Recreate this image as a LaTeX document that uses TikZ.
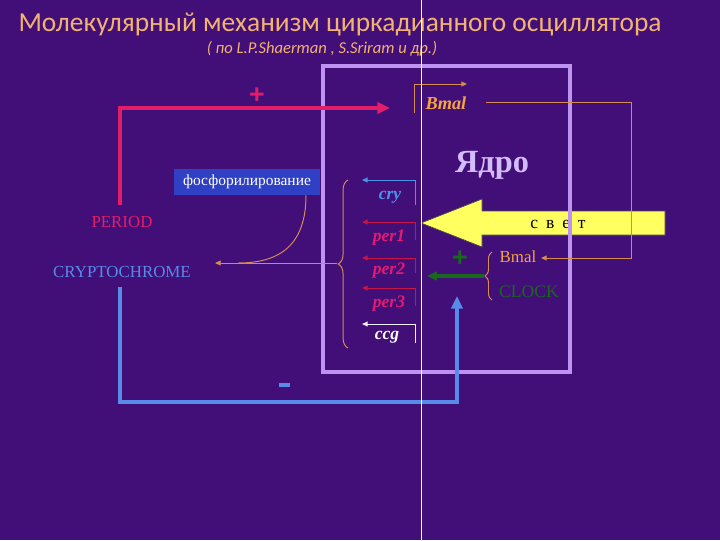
\documentclass[tikz,border=0pt]{standalone}
\usepackage{fontspec}
\setmainfont{Liberation Serif}
\newfontfamily\carlito{Carlito}
\newfontfamily\plusfont{Liberation Sans}
\usetikzlibrary{arrows.meta,decorations.pathreplacing}
\definecolor{fon}{RGB}{66,15,120}
\definecolor{titul}{RGB}{242,178,112}
\definecolor{rozov}{RGB}{226,30,106}
\definecolor{sinij}{RGB}{88,138,234}
\definecolor{zelen}{RGB}{26,104,30}
\definecolor{lilov}{RGB}{190,146,240}
\definecolor{yadroc}{RGB}{212,188,250}
\definecolor{oranzh}{RGB}{212,140,82}
\definecolor{bmalc}{RGB}{244,164,64}
\definecolor{gencry}{RGB}{76,146,236}
\definecolor{genper}{RGB}{228,26,112}
\definecolor{strelka}{RGB}{200,20,70}
\definecolor{zhelt}{RGB}{255,255,96}
\definecolor{boxblue}{RGB}{48,64,196}
\begin{document}
\begin{tikzpicture}[x=0.025cm, y=-0.025cm,
  lbl/.style={inner sep=0pt, font=\fontsize{12}{14}\selectfont},
  gen/.style={inner sep=0pt, font=\fontsize{12.5}{14}\selectfont\bfseries\itshape},
  genline/.style={line width=0.7pt, -{Triangle[length=4pt,width=3.5pt]}},
  thinor/.style={oranzh, line width=0.7pt},
  fat/.style={line width=2.9pt, -{Triangle[length=9pt,width=8pt]}},
  plus/.style={inner sep=0pt, font=\plusfont\bfseries\fontsize{19}{19}\selectfont}
]
  % --- fon ---
  \fill[fon] (0,0) rectangle (720,540);
  \useasboundingbox (0,0) rectangle (720,540);
  % --- zagolovok ---
  \node[inner sep=0pt, text=titul, font=\carlito\fontsize{19.5}{24}\selectfont] (title) at (340,24)
    {Молекулярный механизм циркадианного осциллятора};
  \node[inner sep=0pt, text=titul, font=\carlito\itshape\fontsize{11.8}{13}\selectfont] (subtitle) at (322,49)
    {( по L.P.Shaerman , S.Sriram и др.)};
  % --- svet ---
  \filldraw[fill=zhelt, draw=black!70, line width=0.5pt]
    (421,223) -- (482,199) -- (482,211) -- (665,211) -- (665,235)
    -- (482,235) -- (482,247) -- cycle;
  \node[inner sep=0pt, font=\fontsize{12.5}{14}\selectfont] (svet) at (558,224)
    {с\hspace{0.45em}в\hspace{0.45em}е\hspace{0.45em}т};
  % --- yadro ---
  \draw[lilov, line width=2.6pt] (323,66) rectangle (570,372);
  \node[inner sep=0pt, text=yadroc, font=\fontsize{23}{26}\selectfont\bfseries] (yadro) at (492,165) {Ядро};
  % --- PERIOD ---
  \node[lbl, text=rozov] (period) at (122,222) {PERIOD};
  \node[plus, text=rozov] (plusP) at (257,96) {+};
  \coordinate (pStart) at (120,205);
  \coordinate (pEnd) at (390,108);
  \draw[fat, rozov] (pStart) |- (pEnd);
  % --- CRYPTOCHROME ---
  \node[lbl, text=sinij] (crypto) at (122,272) {CRYPTOCHROME};
  \fill[sinij] (279,383) rectangle (290,387);
  \coordinate (minusB) at (284,385);
  \coordinate (cStart) at (120,287);
  \coordinate (cEnd) at (457,296);
  \draw[fat, sinij] (cStart) -- (120,402) -| (cEnd);
  % --- fosforilirovanie ---
  \node[fill=boxblue, text=white, inner sep=0pt, minimum width=103.8pt,
    minimum height=19pt, font=\fontsize{11}{13}\selectfont] (phos) at (247,182)
    {фосфорилирование};
  \coordinate (bTip) at (337,263);
  \coordinate (fEnd) at (215,263);
  \draw[thinor, -{Triangle[length=4pt,width=3.5pt]}] (bTip) -- (fEnd);
  \draw[thinor] (306,195) .. controls (306,245) and (280,263) .. (238,263);
  \draw[thinor, decorate, decoration={brace, amplitude=7pt}] (348,348) -- (348,180);
  % --- geny ---
  \node[gen, text=gencry] (cry) at (390,197) {cry};
  \node[gen, text=genper] (per1) at (389,238) {per1};
  \node[gen, text=genper] (per2) at (389,271) {per2};
  \node[gen, text=genper] (per3) at (389,304) {per3};
  \node[gen, text=white] (ccg) at (387,337) {ccg};
  \draw[genline, gencry] (415,205) |- (362,180);
  \draw[genline, strelka] (415,240) |- (362,222);
  \draw[genline, strelka] (415,273) |- (362,258);
  \draw[genline, strelka] (415,306) |- (362,288);
  \draw[genline, white!85!lilov] (415,343) |- (362,324);
  % --- Bmal ---
  \node[gen, text=bmalc, font=\fontsize{13}{14}\selectfont\bfseries\itshape] (bmalT) at (446,103) {Bmal};
  \draw[thinor, -{Triangle[length=4pt,width=3.5pt]}] (414,113) |- (467,84);
  \node[lbl, text=bmalc] (bmalB) at (518,257) {Bmal};
  \node[lbl, text=zelen, font=\fontsize{12.5}{14}\selectfont] (clock) at (529,292) {CLOCK};
  \coordinate (bEnd) at (541,258);
  \draw[thinor, -{Triangle[length=4pt,width=3.5pt]}] (486,102) -| (631,258) -- (bEnd);
  \draw[thinor, decorate, decoration={brace, amplitude=5pt}] (492,300) -- (492,252);
  \coordinate (gStart) at (484,276);
  \coordinate (gEnd) at (427,276);
  \draw[zelen, line width=2.2pt, -{Triangle[length=7pt,width=6pt]}] (gStart) -- (gEnd);
  \node[plus, text=zelen] (plusG) at (460,259) {+};
  % --- liniya ---
  \draw[white, line width=0.6pt] (421,0) -- (421,540);
\end{tikzpicture}
\end{document}
